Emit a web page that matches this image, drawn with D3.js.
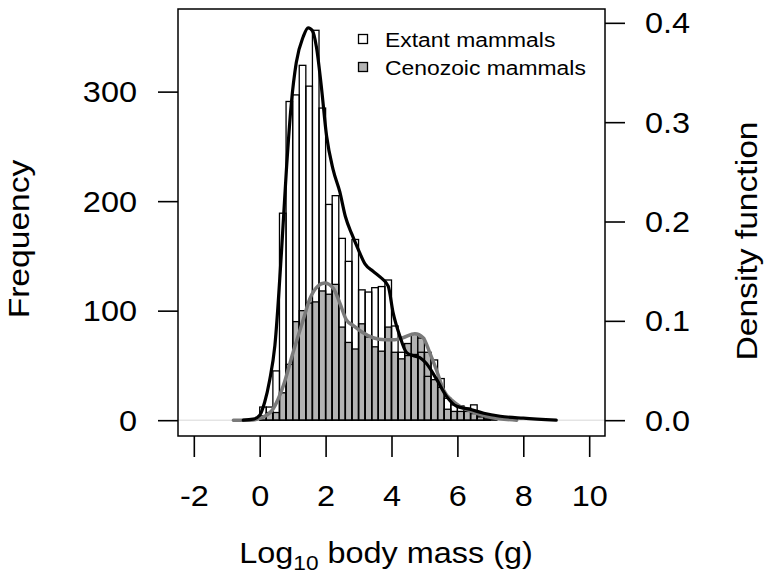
<!DOCTYPE html>
<html><head><meta charset="utf-8">
<script src="https://cdn.jsdelivr.net/npm/d3@7"></script>
<style>
html,body{margin:0;padding:0;background:#fff;}
svg{display:block;font-family:"Liberation Sans",Arial,Helvetica,sans-serif;}
</style>
</head><body><div id="chart"></div>
<script>
// ---- data ----
const binStarts = [0.0,0.2,0.4,0.6,0.8,1.0,1.2,1.4,1.6,1.8,2.0,2.2,2.4,2.6,2.8,3.0,3.2,3.4,3.6,3.8,4.0,4.2,4.4,4.6,4.8,5.0,5.2,5.4,5.6,5.8,6.0,6.2,6.4,6.6,6.8,7.0];
const binWidth = 0.2;
const extantCounts   = [12,12,45,189,291,297,324,305,356,285,197,205,166,145,165,119,117,121,122,128,86,62,59,60,62,40,55,38,20,14,13,11,14,4,2,1];
const cenozoicCounts = [4,7,7,25,51,90,100,107,108,118,115,124,85,71,65,88,76,67,63,85,62,56,70,79,75,62,37,30,10,8,8,8,6,3,1,0];

const extantDensX = [-0.5,-0.2,0.0,0.15,0.3,0.46,0.66,0.81,0.96,1.11,1.32,1.47,1.6,1.72,1.87,2.03,2.23,2.43,2.6,2.8,2.99,3.2,3.44,3.66,3.9,4.05,4.25,4.46,4.65,4.86,5.06,5.37,5.67,5.98,6.38,6.8,7.3,8.0,9.0];
const extantDensY = [0.0,0.001,0.005,0.018,0.04,0.075,0.169,0.252,0.319,0.36,0.386,0.395,0.392,0.376,0.336,0.286,0.252,0.23,0.205,0.187,0.172,0.157,0.15,0.144,0.135,0.108,0.085,0.068,0.065,0.063,0.057,0.041,0.024,0.014,0.011,0.007,0.004,0.002,0.0];
const cenozoicDensX = [-0.8,-0.3,0.1,0.4,0.71,1.01,1.32,1.52,1.77,1.97,2.23,2.43,2.63,2.85,3.09,3.44,3.8,4.1,4.35,4.71,4.96,5.16,5.37,5.57,5.87,6.07,6.5,7.0,7.8];
const cenozoicDensY = [0.0,0.0,0.003,0.011,0.034,0.068,0.101,0.122,0.135,0.138,0.133,0.118,0.101,0.095,0.089,0.083,0.081,0.081,0.083,0.087,0.083,0.068,0.05,0.031,0.019,0.014,0.008,0.003,0.0];

const xTicks = [-2,0,2,4,6,8,10];
const xTickLabels = ["-2","0","2","4","6","8","10"];
const countTicks = [0,100,200,300];
const countTickLabels = ["0","100","200","300"];
const densityTicks = [0,0.1,0.2,0.3,0.4];
const densityTickLabels = ["0.0","0.1","0.2","0.3","0.4"];
const seriesNames = ["Extant mammals","Cenozoic mammals"];
const xLim = [-2,10], countLim = [0,361], densLim = [0,0.398];

// ---- layout ----
const W = 771, H = 576;
const box = {left:178, right:605, top:9, bottom:436};
const pad = l => { const r = (l[1]-l[0])*0.04; return [l[0]-r, l[1]+r]; };
const x = d3.scaleLinear().domain(pad(xLim)).range([box.left, box.right]);
const yC = d3.scaleLinear().domain(pad(countLim)).range([box.bottom, box.top]);
const yD = d3.scaleLinear().domain(pad(densLim)).range([box.bottom, box.top]);
const grayFill = "#b3b3b3";

const svg = d3.select("#chart").append("svg").attr("width",W).attr("height",H);

// zero line
svg.append("line").attr("x1",box.left).attr("x2",box.right)
  .attr("y1",yD(0)).attr("y2",yD(0)).attr("stroke","#d8d8d8").attr("stroke-width",1);

// cenozoic bars (filled)
svg.append("g").selectAll("rect").data(binStarts.map((b,i)=>({b,c:cenozoicCounts[i]})).filter(d=>d.c>0))
  .join("rect")
  .attr("x",d=>x(d.b)).attr("width",d=>x(d.b+binWidth)-x(d.b))
  .attr("y",d=>yC(d.c)).attr("height",d=>yC(0)-yC(d.c))
  .attr("fill",grayFill).attr("stroke","#000").attr("stroke-width",1.3);

// extant bars (outline only)
svg.append("g").selectAll("rect").data(binStarts.map((b,i)=>({b,c:extantCounts[i]})).filter(d=>d.c>0))
  .join("rect")
  .attr("x",d=>x(d.b)).attr("width",d=>x(d.b+binWidth)-x(d.b))
  .attr("y",d=>yC(d.c)).attr("height",d=>yC(0)-yC(d.c))
  .attr("fill","none").attr("stroke","#000").attr("stroke-width",1.3);

// density curves
const line = d3.line().x(d=>x(d[0])).y(d=>yD(d[1])).curve(d3.curveMonotoneX);
svg.append("path").datum(cenozoicDensX.map((v,i)=>[v,cenozoicDensY[i]]))
  .attr("d",line).attr("fill","none").attr("stroke","#7a7a7a").attr("stroke-width",3.5)
  .attr("stroke-linejoin","round").attr("stroke-linecap","round");
svg.append("path").datum(extantDensX.map((v,i)=>[v,extantDensY[i]]))
  .attr("d",line).attr("fill","none").attr("stroke","#000").attr("stroke-width",3.2)
  .attr("stroke-linejoin","round").attr("stroke-linecap","round");

// box
svg.append("rect").attr("x",box.left).attr("y",box.top)
  .attr("width",box.right-box.left).attr("height",box.bottom-box.top)
  .attr("fill","none").attr("stroke","#000").attr("stroke-width",1.5);

const tickFont = 29, sx = 1.12;
function styleAxis(g){
  g.select(".domain").remove();
  g.selectAll(".tick line").attr("stroke","#000").attr("stroke-width",1.6);
  g.selectAll(".tick text").attr("font-size",tickFont).attr("fill","#000").attr("font-family",null);
}
// left axis
const gL = svg.append("g").attr("transform",`translate(${box.left},0)`)
  .call(d3.axisLeft(yC).tickValues(countTicks).tickFormat((d,i)=>countTickLabels[i]).tickSize(20).tickSizeOuter(0));
styleAxis(gL);
gL.selectAll(".tick text").attr("x",null).attr("dy",null)
  .attr("transform",`translate(-41,10) scale(${sx},1)`);
// right axis
const gR = svg.append("g").attr("transform",`translate(${box.right},0)`)
  .call(d3.axisRight(yD).tickValues(densityTicks).tickFormat((d,i)=>densityTickLabels[i]).tickSize(20).tickSizeOuter(0));
styleAxis(gR);
gR.selectAll(".tick text").attr("x",null).attr("dy",null)
  .attr("transform",`translate(40,10) scale(${sx},1)`);
// bottom axis
const gB = svg.append("g").attr("transform",`translate(0,${box.bottom})`)
  .call(d3.axisBottom(x).tickValues(xTicks).tickFormat((d,i)=>xTickLabels[i]).tickSize(21).tickSizeOuter(0));
styleAxis(gB);
gB.selectAll(".tick text").attr("y",null).attr("dy",null)
  .attr("transform",`translate(0,70) scale(${sx},1)`);

// axis titles
const titleFont = 30;
svg.append("text").attr("transform",`translate(29,239) rotate(-90) scale(${sx},1)`)
  .attr("text-anchor","middle").attr("font-size",titleFont).text("Frequency");
svg.append("text").attr("transform",`translate(757,241) rotate(-90) scale(${sx},1)`)
  .attr("text-anchor","middle").attr("font-size",titleFont).text("Density function");
const xt = svg.append("text").attr("transform",`translate(386,563) scale(1.08,1)`)
  .attr("text-anchor","middle").attr("font-size",titleFont);
xt.append("tspan").text("Log");
xt.append("tspan").attr("font-size",21).attr("dy",7).text("10");
xt.append("tspan").attr("dy",-7).text(" body mass (g)");

// legend
const leg = svg.append("g");
const legFills = ["#ffffff", grayFill];
seriesNames.forEach((name,i)=>{
  const cy = 39 + i*28;
  leg.append("rect").attr("x",358.5).attr("y",cy-4.5).attr("width",9).attr("height",9)
    .attr("fill",legFills[i]).attr("stroke","#000").attr("stroke-width",1.3);
  leg.append("text").attr("transform",`translate(385,${cy+7.5}) scale(1.09,1)`)
    .attr("font-size",21).text(name);
});
</script>
</body></html>
